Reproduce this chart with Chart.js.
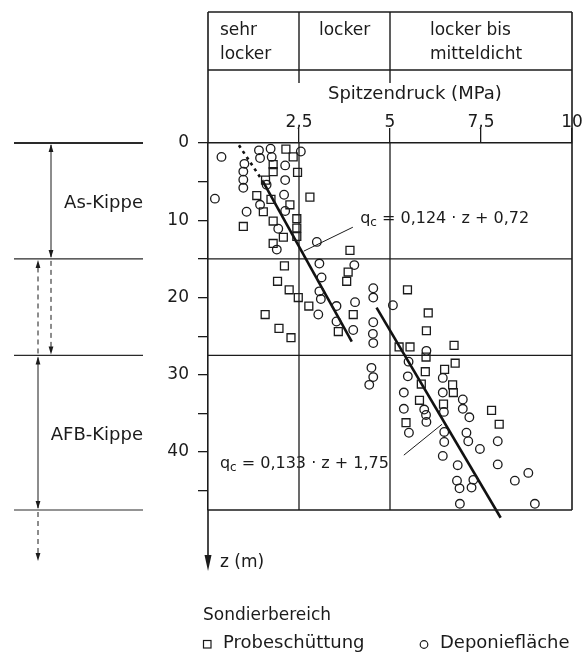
<!DOCTYPE html>
<html>
<head>
<meta charset="utf-8">
<script src="https://cdn.jsdelivr.net/npm/chart.js@4.4.1/dist/chart.umd.min.js"></script>
<style>
html,body{margin:0;padding:0;background:#fff;}
#wrap{width:585px;height:655px;}
</style>
</head>
<body>
<div id="wrap"><canvas id="c" width="585" height="655"></canvas></div>
<script>
// ---------- data ----------
// Probeschüttung (squares): Spitzendruck qc (MPa) and depth z (m)
const probeX = [2.14,2.34,1.79,1.79,2.46,1.58,1.34,1.73,2.25,2.80,1.52,0.97,1.79,2.07,2.44,2.44,2.44,1.79,3.90,2.10,1.91,2.23,2.48,2.77,1.57,1.95,2.28,3.85,3.81,3.99,3.58,5.48,6.05,6.00,5.25,5.55,6.76,5.99,6.79,6.50,5.97,5.86,5.81,5.44,6.72,6.74,6.47,7.79,8.00];
const probeZ = [0.8,1.8,2.8,3.7,3.8,4.8,6.8,7.3,8.0,7.0,8.9,10.8,10.1,12.2,9.8,11.0,12.1,13.0,13.9,15.9,17.9,19.0,20.0,21.1,22.2,24.0,25.2,16.7,17.9,22.2,24.4,19.0,22.0,24.3,26.4,26.4,26.2,27.7,28.5,29.3,29.6,31.2,33.3,36.2,31.3,32.3,33.8,34.6,36.4];
// Deponiefläche (circles)
const deponieX = [0.37,0.19,1.40,1.72,1.43,1.75,1.00,0.97,0.97,0.97,2.12,2.55,2.12,1.61,2.09,1.43,1.06,2.12,1.93,1.89,2.99,3.06,3.12,3.06,3.10,3.03,4.02,3.53,4.04,3.53,3.99,4.54,4.54,4.54,4.53,4.54,5.08,6.00,5.51,4.49,4.54,4.43,5.49,5.38,5.38,5.52,5.94,5.99,6.00,6.45,6.45,6.48,7.00,7.00,7.18,7.10,7.15,7.47,7.96,7.96,6.49,6.49,6.45,6.86,6.84,6.91,7.29,7.24,8.43,8.80,6.92,8.98];
const deponieZ = [1.8,7.2,0.95,0.74,1.95,1.8,2.7,3.7,4.75,5.8,2.9,1.1,4.8,5.4,6.7,8.0,8.9,8.8,11.1,13.8,12.8,15.6,17.4,19.2,20.2,22.2,15.8,21.1,20.6,23.1,24.2,18.8,20.0,23.2,24.7,25.9,21.0,26.9,28.3,29.1,30.3,31.3,30.2,32.3,34.4,37.5,34.5,35.2,36.1,30.4,32.3,34.8,33.2,34.4,35.5,37.5,38.6,39.6,38.6,41.6,37.4,38.7,40.5,41.7,43.7,44.7,43.6,44.6,43.7,42.7,46.7,46.7];
// regression lines as drawn (end points)
const fit1DashX = [0.85,1.50], fit1DashZ = [0.3,4.9];
const fit1X = [1.50,3.95], fit1Z = [4.9,25.7];
const fit2X = [4.63,8.04], fit2Z = [21.3,48.5];
// leader lines of the equation labels
const lead1X = [2.63,3.98], lead1Z = [14.0,10.9];
const lead2X = [5.38,6.43], lead2Z = [40.4,36.4];
const eq1Text = ' = 0,124 · z + 0,72';
const eq2Text = ' = 0,133 · z + 1,75';
// axes
const xTickValues = [2.5,5,7.5,10];
const yTickValues = [0,5,10,15,20,25,30,35,40,45];
const yLabelValues = [0,10,20,30,40];
const xTitle = 'Spitzendruck (MPa)';
const zTitle = 'z (m)';
// grid lines
const gridX = [2.5,5];
const gridZ = [15,27.5];
// density classes in the header
const classFrom = [0,2.5,5];
const classTo = [2.5,5,10];
const classLabels = [['sehr','locker'],['locker'],['locker bis','mitteldicht']];
// layers on the left
const layerDepths = [0,15,27.5,47.5];
const layerNames = ['As-Kippe','AFB-Kippe'];
const layerNameDepths = [7.5,37.5];
// legend
const legendTitle = 'Sondierbereich';
const seriesNames = ['Probeschüttung','Deponiefläche'];

// ---------- drawing ----------
const INK = '#1b1b1b';
const FONT = "'DejaVu Sans', 'Liberation Sans', sans-serif";
Chart.defaults.font.family = FONT;
Chart.defaults.font.size = 17;
Chart.defaults.color = INK;

const pts = (xs, zs) => xs.map((v, i) => ({x: v, y: zs[i]}));

function line(ctx, x1, y1, x2, y2, w, dash) {
  ctx.save();
  ctx.lineWidth = w;
  ctx.setLineDash(dash || []);
  ctx.beginPath(); ctx.moveTo(x1, y1); ctx.lineTo(x2, y2); ctx.stroke();
  ctx.restore();
}
function head(ctx, x, y, dir, hw, len) {
  ctx.beginPath();
  ctx.moveTo(x, y);
  ctx.lineTo(x - hw, y - dir * len);
  ctx.lineTo(x + hw, y - dir * len);
  ctx.closePath(); ctx.fill();
}
function eqLabel(ctx, text, px, baseline, alignRight) {
  ctx.save();
  ctx.textBaseline = 'alphabetic';
  ctx.textAlign = 'left';
  const big = '16px ' + FONT, small = '12px ' + FONT;
  ctx.font = big; const wq = ctx.measureText('q').width; const wr = ctx.measureText(text).width;
  ctx.font = small; const wc = ctx.measureText('c').width;
  let x0 = alignRight ? px - (wq + wc + wr) : px;
  ctx.font = big; ctx.fillText('q', x0, baseline);
  ctx.font = small; ctx.fillText('c', x0 + wq, baseline + 3);
  ctx.font = big; ctx.fillText(text, x0 + wq + wc, baseline);
  ctx.restore();
}

const decor = {
  id: 'decor',
  beforeDatasetsDraw(chart) {
    const {ctx, chartArea: a, scales: {x, y}} = chart;
    ctx.save();
    ctx.strokeStyle = INK;
    gridX.forEach(v => { const p = x.getPixelForValue(v); line(ctx, p, a.top, p, a.bottom, 1.3); });
    gridZ.forEach(v => { const p = y.getPixelForValue(v); line(ctx, a.left, p, a.right, p, 1.3); });
    ctx.restore();
  },
  afterDraw(chart) {
    const {ctx, chartArea: a, scales: {x, y}} = chart;
    ctx.save();
    ctx.strokeStyle = INK; ctx.fillStyle = INK;
    const headTop = 12, headDiv = 70, headTick = 83;
    // frame
    line(ctx, a.left, headTop, a.right, headTop, 1.6);
    line(ctx, a.left, headDiv, a.right, headDiv, 1.4);
    line(ctx, a.left, headTop, a.left, a.top, 1.6);
    line(ctx, a.right, headTop, a.right, a.bottom, 1.6);
    line(ctx, a.left, a.bottom, a.right, a.bottom, 1.5);
    // z axis arrow
    const arrowTip = 571;
    line(ctx, a.left, a.bottom, a.left, arrowTip - 6, 1.6);
    head(ctx, a.left, arrowTip, 1, 3.5, 16);
    ctx.textBaseline = 'alphabetic'; ctx.textAlign = 'left';
    ctx.font = '17px ' + FONT;
    ctx.fillText(zTitle, a.left + 12, 567);
    // header classes
    const padX = [12, 20, 40];
    classFrom.forEach((f, i) => {
      if (f > x.min) { const p = x.getPixelForValue(f); line(ctx, p, headTop, p, headTick, 1.4); }
      const lx = x.getPixelForValue(f) + padX[i];
      classLabels[i].forEach((t, j) => ctx.fillText(t, lx, 35 + j * 24));
    });
    // axis title
    ctx.font = '18px ' + FONT;
    ctx.fillText(xTitle, 328, 99);
    // left layer panel
    const L = 14, R = 143, ax1 = 51, ax2 = 38;
    const py = layerDepths.map(d => y.getPixelForValue(d));
    ctx.strokeStyle = '#2a2a2a';
    py.forEach((p, i) => line(ctx, L, p, R, p, i === 0 ? 2 : 1.2));
    ctx.strokeStyle = INK;
    // As-Kippe: solid double arrow
    line(ctx, ax1, py[0] + 2, ax1, py[1] - 2, 1);
    head(ctx, ax1, py[0] + 1, -1, 2.4, 8);
    head(ctx, ax1, py[1] - 1, 1, 2.4, 8);
    // transition zone: dashed arrows
    line(ctx, ax1, py[1] + 2, ax1, py[2] - 4, 1, [5, 4]);
    head(ctx, ax1, py[2] - 1, 1, 2.4, 8);
    line(ctx, ax2, py[2] - 2, ax2, py[1] + 4, 1, [5, 4]);
    head(ctx, ax2, py[1] + 1, -1, 2.4, 8);
    // AFB-Kippe: solid double arrow
    line(ctx, ax2, py[2] + 2, ax2, py[3] - 2, 1);
    head(ctx, ax2, py[2] + 1, -1, 2.4, 8);
    head(ctx, ax2, py[3] - 1, 1, 2.4, 8);
    // continuation downward
    line(ctx, ax2, py[3] + 2, ax2, 556, 1, [5, 4]);
    head(ctx, ax2, 561, 1, 2.4, 8);
    ctx.textAlign = 'right';
    ctx.font = '18px ' + FONT;
    layerNames.forEach((n, i) => ctx.fillText(n, R, y.getPixelForValue(layerNameDepths[i]) + 7));
    // equation labels
    eqLabel(ctx, eq1Text, x.getPixelForValue(4.18), y.getPixelForValue(10.36), false);
    eqLabel(ctx, eq2Text, x.getPixelForValue(4.97), y.getPixelForValue(42.1), true);
    // legend
    ctx.textAlign = 'left';
    ctx.font = '17px ' + FONT;
    ctx.fillText(legendTitle, 203, 620);
    ctx.font = '18px ' + FONT;
    ctx.lineWidth = 1.2;
    ctx.strokeRect(203.5, 640.5, 7.5, 7.5);
    ctx.fillText(seriesNames[0], 223, 648);
    ctx.beginPath(); ctx.arc(424, 644.5, 3.8, 0, Math.PI * 2); ctx.stroke();
    ctx.fillText(seriesNames[1], 440, 648);
    ctx.restore();
  }
};

const markerStyle = {borderColor: INK, backgroundColor: 'rgba(255,255,255,0)', borderWidth: 1.3, showLine: false};
const fitStyle = {borderColor: '#111', borderWidth: 2.6, pointRadius: 0, showLine: true, fill: false, borderCapStyle: 'butt'};
const leadStyle = {borderColor: INK, borderWidth: 1, pointRadius: 0, showLine: true, fill: false};

new Chart(document.getElementById('c'), {
  type: 'scatter',
  data: {
    datasets: [
      Object.assign({label: seriesNames[0], data: pts(probeX, probeZ), pointStyle: 'rect', pointRadius: 5.6}, markerStyle),
      Object.assign({label: seriesNames[1], data: pts(deponieX, deponieZ), pointStyle: 'circle', pointRadius: 4.3}, markerStyle),
      Object.assign({label: 'fit1 dashed', data: pts(fit1DashX, fit1DashZ), borderDash: [3, 4]}, fitStyle),
      Object.assign({label: 'fit1', data: pts(fit1X, fit1Z)}, fitStyle),
      Object.assign({label: 'fit2', data: pts(fit2X, fit2Z), clip: false}, fitStyle),
      Object.assign({label: 'lead1', data: pts(lead1X, lead1Z)}, leadStyle),
      Object.assign({label: 'lead2', data: pts(lead2X, lead2Z)}, leadStyle)
    ]
  },
  options: {
    responsive: false,
    animation: false,
    layout: {padding: {left: 0, right: 13, top: 0, bottom: 145}},
    plugins: {legend: {display: false}, tooltip: {enabled: false}},
    scales: {
      x: {
        type: 'linear', position: 'top', min: 0, max: 10,
        afterFit: s => { s.height = 143; },
        afterBuildTicks: s => { s.ticks = xTickValues.map(v => ({value: v})); },
        ticks: {padding: -5, maxRotation: 0, autoSkip: false, color: INK, font: {size: 17},
                callback: v => String(v).replace('.', ',')},
        grid: {drawOnChartArea: false, drawTicks: true, tickLength: 15, color: INK, lineWidth: 1.3},
        border: {display: true, color: INK, width: 1.6}
      },
      y: {
        type: 'linear', position: 'left', min: 0, max: 47.5, reverse: true,
        afterFit: s => { s.width = 208; },
        afterBuildTicks: s => { s.ticks = yTickValues.map(v => ({value: v})); },
        ticks: {padding: 9, autoSkip: false, color: INK, font: {size: 17},
                callback: v => yLabelValues.includes(v) ? String(v) : ''},
        grid: {drawOnChartArea: false, drawTicks: true, tickLength: 10, color: INK, lineWidth: 1.3},
        border: {display: true, color: INK, width: 1.6}
      }
    }
  },
  plugins: [decor]
});
</script>
</body>
</html>
